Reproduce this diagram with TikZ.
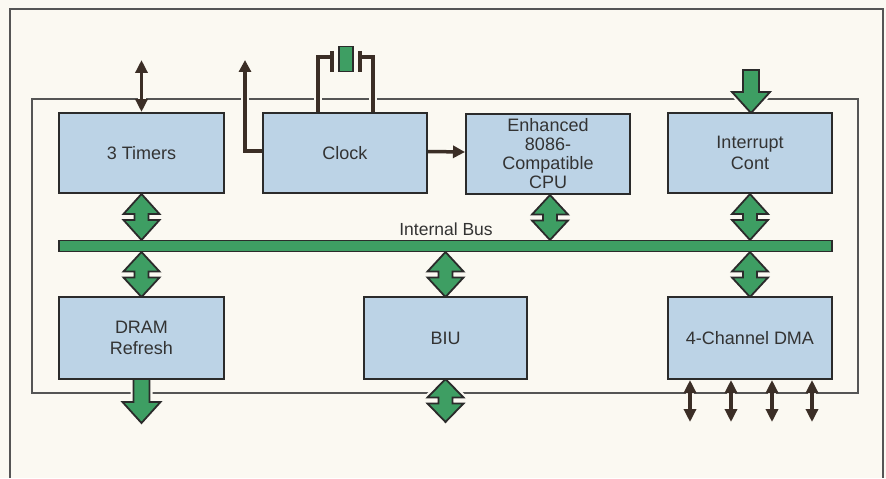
\documentclass[tikz,border=0pt]{standalone}
\usepackage{fontspec}
\setmainfont{Liberation Sans}
\usetikzlibrary{arrows.meta,calc}
\pgfdeclarelayer{frame}
\pgfdeclarelayer{arrows}
\pgfsetlayers{frame,arrows,main}
\definecolor{bgc}{HTML}{FBF9F2}
\definecolor{boxfill}{HTML}{BCD3E6}
\definecolor{ink}{HTML}{2B2B2B}
\definecolor{grn}{HTML}{3E9E63}
\definecolor{brn}{HTML}{3B2E26}
\definecolor{frm}{HTML}{555555}
\definecolor{txt}{HTML}{333333}
\tikzset{
  blk/.style={draw=ink, line width=2pt, fill=boxfill, align=center, text=txt,
    font=\fontsize{18}{20.5}\selectfont, inner sep=0pt},
  framel/.style={draw=frm, line width=1.6pt},
  tarrow/.style={draw=brn, line width=3.5pt, -{Triangle[length=12pt,width=12pt]},
    preaction={draw=bgc, line width=8pt, -}},
  tdbl/.style={draw=brn, line width=3.5pt, {Triangle[length=13pt,width=12pt]}-{Triangle[length=13pt,width=12pt]},
    preaction={draw=bgc, line width=8pt, -}},
  fat/.style={fill=grn, draw=ink, line width=1.8pt, line join=miter},
  fatw/.style={fat, preaction={draw=bgc, line width=6pt}},
  wire/.style={draw=brn, line width=3.5pt, line join=miter, preaction={draw=bgc, line width=8pt}},
}
\newcommand\fatdbl[4][fat]{% style, cx, ytop, ybot
  \pgfmathsetmacro\ymA{(#3+#4)/2-3}
  \pgfmathsetmacro\ymB{(#3+#4)/2+3}
  \path[#1] (#2,#3) -- ({#2+18},\ymA) -- ({#2+7},\ymA) -- ({#2+7},\ymB) -- ({#2+18},\ymB)
    -- (#2,#4) -- ({#2-18},\ymB) -- ({#2-7},\ymB) -- ({#2-7},\ymA) -- ({#2-18},\ymA) -- cycle;}
\newcommand\fatdn[3]{% cx, ytop, ytip
  \pgfmathsetmacro\yb{#3-21}
  \path[fatw] ({#1-8},#2) -- ({#1+8},#2) -- ({#1+8},\yb) -- ({#1+19},\yb) -- (#1,#3)
    -- ({#1-19},\yb) -- ({#1-8},\yb) -- cycle;}
\begin{document}
\begin{tikzpicture}[x=1pt,y=-1pt]
\begin{pgfonlayer}{frame}
\fill[bgc] (0,0) rectangle (886,478);
% outer frame (open at the bottom)
\draw[framel] (10,478) -- (10,9) -- (883,9) -- (883,478);
% chip outline
\draw[framel] (32,99) rectangle (858,393);
\end{pgfonlayer}
\useasboundingbox (0,0) rectangle (886,478);
% named positions
\coordinate (tmrio) at (141.5,60);
\coordinate (clkout) at (245,60);
% blocks
\node[blk, minimum width=165pt, minimum height=80pt] (timers) at (141.5,153) {3 Timers};
\node[blk, minimum width=164pt, minimum height=80pt] (clock) at (345,153) {Clock};
\node[blk, minimum width=164pt, minimum height=80pt] (cpu) at (548,153.5) {Enhanced\\[-1.5pt]8086-\\[-1.5pt]Compatible\\[-1.5pt]CPU};
\node[blk, minimum width=164pt, minimum height=80pt] (intc) at (750,153) {Interrupt\\Cont};
\node[blk, minimum width=165pt, minimum height=82pt] (dram) at (141.5,338) {DRAM\\Refresh};
\node[blk, minimum width=163pt, minimum height=82pt] (biu) at (445.5,338) {BIU};
\node[blk, minimum width=164pt, minimum height=82pt] (dma) at (750,338) {4-Channel DMA};
\node[draw=ink, line width=1.8pt, fill=grn, minimum width=773pt, minimum height=11pt, inner sep=0pt] (bus) at (445.5,246) {};
\node[text=txt, font=\fontsize{17.5}{20}\selectfont] (buslbl) at (446,229) {Internal Bus};
\node[draw=ink, line width=1.8pt, fill=grn, minimum width=14pt, minimum height=25pt, inner sep=0pt] (xtal) at (346,59) {};
\begin{pgfonlayer}{arrows}
% thin connectors
\draw[tdbl] (tmrio) -- (timers.north);
\draw[tarrow] ([yshift=2pt]clock.west) -| (clkout);
\draw[tarrow] ([yshift=1.5pt]clock.east) -- ([yshift=1.5pt]cpu.west);
% crystal wiring
\draw[wire] (clock.north -| 318,0) -- (318,57) -- (332,57);
\draw[wire] (clock.north -| 373,0) -- (373,57) -- (360,57);
\draw[draw=brn, line width=3.5pt] (332,51) -- (332,72);
\draw[draw=brn, line width=3.5pt] (360,51) -- (360,72);
% fat bus arrows
\fatdbl{141.5}{194}{240}
\fatdbl{550}{195}{240}
\fatdbl{750}{194}{240}
\fatdbl{141.5}{252}{297}
\fatdbl{445.5}{252}{297}
\fatdbl{750}{252}{297}
\fatdbl[fatw]{445.5}{379}{422}
\fatdn{141.5}{379}{423}
\fatdn{751}{70}{113}
% DMA channels
\foreach \xx in {690,731,772,812}{
  \draw[tdbl] (dma.south -| \xx,0) -- (\xx,422);
}
\end{pgfonlayer}
\end{tikzpicture}
\end{document}
